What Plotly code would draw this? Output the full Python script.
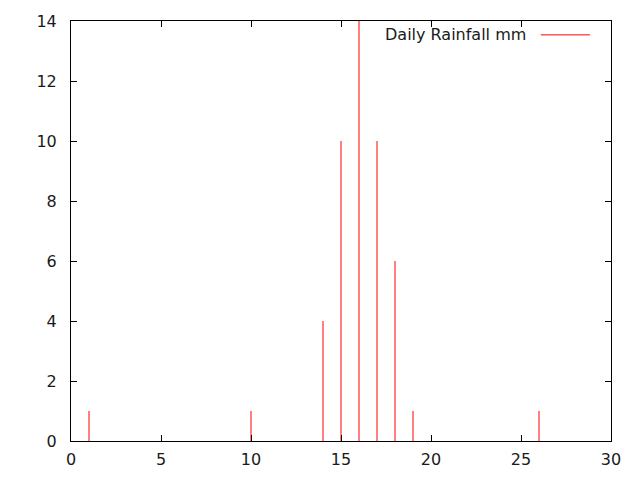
import plotly.graph_objects as go

# Daily rainfall (mm) by day of month
days = [1, 10, 14, 15, 16, 17, 18, 19, 26]
rain_mm = [1, 1, 4, 10, 14, 10, 6, 1, 1]

x_ticks = [0, 5, 10, 15, 20, 25, 30]
y_ticks = [0, 2, 4, 6, 8, 10, 12, 14]

# build impulse segments (gnuplot "with impulses" look)
xs, ys = [], []
for d, r in zip(days, rain_mm):
    xs += [d, d, None]
    ys += [0, r, None]

fig = go.Figure()
fig.add_trace(go.Scatter(x=xs, y=ys, mode="lines",
                         line=dict(color="#ff0000", width=1),
                         name="Daily Rainfall mm", showlegend=False,
                         hoverinfo="skip"))

axis_style = dict(showline=True, linecolor="black", linewidth=1, mirror="ticks",
                  ticks="inside", ticklen=6, tickcolor="black", showgrid=False,
                  zeroline=False, automargin=False,
                  tickfont=dict(size=16, color="#1a1a1a"))

fig.update_xaxes(range=[0, 30], tickvals=x_ticks, ticklabelstandoff=4, **axis_style)
fig.update_yaxes(range=[0, 14], tickvals=y_ticks, ticklabelstandoff=10, **axis_style)

# legend in gnuplot style: text then sample line on the right
fig.add_annotation(x=0.846, y=0.967, xref="paper", yref="paper",
                   text="Daily Rainfall mm", showarrow=False,
                   xanchor="right", yanchor="middle",
                   font=dict(size=16, color="#1a1a1a"))
fig.add_shape(type="line", xref="paper", yref="paper",
              x0=0.870, x1=0.961, y0=0.967, y1=0.967,
              line=dict(color="#ff0000", width=1))

# page body adds an 8px offset, so margins are shifted to keep the plot box in place
fig.update_layout(width=640, height=480,
                  margin=dict(l=63, r=37, t=13, b=47),
                  plot_bgcolor="white", paper_bgcolor="white",
                  font=dict(family="DejaVu Sans"))

fig.write_html("out.html")
